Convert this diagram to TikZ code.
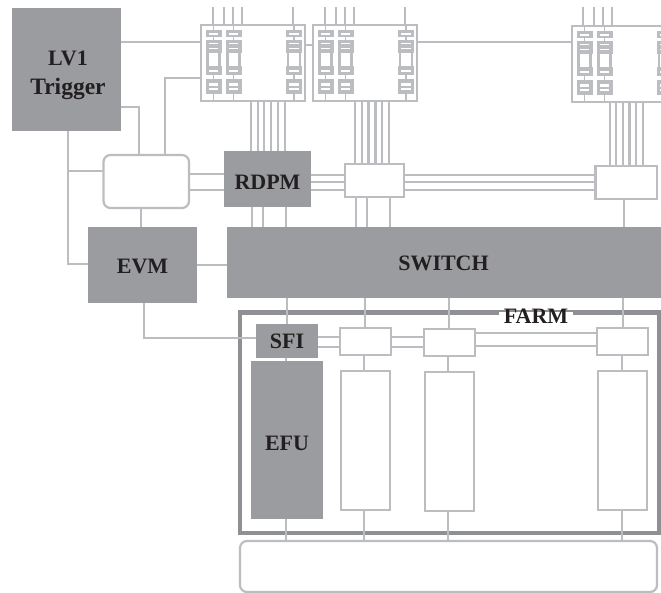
\documentclass[tikz,border=0pt]{standalone}
\usepackage{fontspec}
\setmainfont{Liberation Serif}
\definecolor{wirec}{HTML}{BCBDC0}
\definecolor{boxc}{HTML}{9B9C9F}
\definecolor{framec}{HTML}{8F9093}
\definecolor{inkc}{HTML}{231F20}
\tikzset{
  wire/.style={draw=wirec,line width=2.2pt},
  anybox/.style={inner sep=0pt,outer sep=0pt,font=\fontsize{22}{29}\selectfont\bfseries,text=inkc,align=center},
  darkbox/.style={anybox,fill=boxc},
  openbox/.style={anybox,draw=wirec,line width=2.2pt,fill=white},
  roundbox/.style={openbox,rounded corners=7pt},
  slot/.style={fill=white},
  block/.style={fill=wirec},
}
% \bx{name}{x1}{y1}{x2}{y2}{style}{text}
\newcommand{\bx}[7]{\node[#6,minimum width={(#4-#2)*1pt},minimum height={(#5-#3)*1pt}] (#1) at ({(#2+#4)/2},{(#3+#5)/2}) {#7};}
\newcommand{\tx}[2]{\raisebox{-#1pt}[0pt][0pt]{#2}}
\newcommand{\vl}[3]{\draw[wire] (#1,0 |- #2) -- (#1,0 |- #3);}
\newcommand{\hl}[3]{\draw[wire] (#2 |- 0,#1) -- (#3 |- 0,#1);}
\newcommand{\cell}[1]{%
  \begin{scope}[xshift=#1pt]
    \draw[wire,line width=1.8pt] (0,0) -- (0,76);
    \draw[wire,line width=2.4pt] (-6,26) -- (-6,44) (6,26) -- (6,44);
    \fill[white] (-4.7,26) rectangle (4.7,44);
    \fill[block] (-8,5) rectangle (8,12.5);
    \fill[slot] (-4.8,7.8) rectangle (4.8,9.8);
    \fill[block] (-8,15.5) rectangle (8,28.5);
    \fill[slot] (-4.8,18.3) rectangle (4.8,19.5);
    \fill[slot] (-4.8,23) rectangle (4.8,24.4);
    \fill[block] (-8,41.5) rectangle (8,50.5);
    \fill[slot] (-4.8,45) rectangle (4.8,46.8);
    \fill[block] (-8,54) rectangle (8,69.5);
    \fill[slot] (-4.8,57.8) rectangle (4.8,60.6);
    \fill[slot] (-4.8,63.4) rectangle (4.8,65.4);
  \end{scope}}
\newcommand{\modul}[3]{%
  \bx{#1}{#2}{#3}{#2+104}{#3+76}{openbox}{}
  \begin{scope}[shift={(#2,#3)}]
    \cell{12.5}\cell{32.5}\cell{92.7}
  \end{scope}}
\begin{document}
\begin{tikzpicture}[x=1pt,y=-1pt]
\clip (0,0) rectangle (661,593);
\fill[white] (0,0) rectangle (661,593);
\coordinate (t1) at (0,7);
% farm frame first, wires run over it
\bx{farm}{240}{312.5}{659.5}{533}{anybox,draw=framec,line width=4.2pt}{}
\node[anybox,fill=white,minimum width=74pt,minimum height=10pt] (farmlabel) at (536,317) {\tx{6.5}{FARM}};
% boxes
\bx{lv}{12}{8}{121}{131}{darkbox}{\rule{0pt}{27pt}\hspace*{3pt}LV1\\\hspace*{3pt}{\fontsize{23.5}{29}\selectfont Trigger}}
\bx{coord}{103.5}{155}{189}{208}{roundbox}{}
\bx{rdpm}{224}{151}{311}{207}{darkbox}{\tx{10.5}{RDPM}}
\bx{evm}{88}{227}{197}{303}{darkbox}{\tx{8.5}{EVM}}
\bx{switch}{227}{227}{665}{298}{darkbox}{\hspace{-5pt}\tx{8}{SWITCH}}
\bx{ra}{345}{164}{404}{197}{openbox}{}
\bx{rb}{595.5}{166}{657}{199}{openbox}{}
\modul{ma}{201}{25}
\modul{mb}{313}{25}
\modul{mc}{572}{26}
\bx{sfi}{256}{324}{318}{358}{darkbox}{\tx{7.5}{SFI}}
\bx{efu}{251}{361}{323}{519}{darkbox}{\tx{10}{EFU}}
\bx{fa}{340}{328}{391}{355}{openbox}{}
\bx{fb}{424}{329}{475}{356}{openbox}{}
\bx{fc}{597}{328}{648}{355}{openbox}{}
\bx{ca}{341}{371}{390}{510}{openbox}{}
\bx{cb}{425}{372}{474}{511}{openbox}{}
\bx{cc}{598}{371}{647}{510}{openbox}{}
\bx{store}{240}{541}{657}{592}{roundbox}{}
% module top lines
\foreach \x in {213,224,233,242,293}{\vl{\x}{t1}{ma.north}}
\foreach \x in {325,336,345,354,405}{\vl{\x}{t1}{mb.north}}
\foreach \x in {583,594,603,612}{\vl{\x}{t1}{mc.north}}
% bundles
\foreach \x in {251,257.7,264.2,271,277.7,284.7}{\vl{\x}{ma.south}{rdpm.north}}
\foreach \x in {355,362,368.5,375.5,382,389}{\vl{\x}{mb.south}{ra.north}}
\foreach \x in {610,616.3,623,629.5,636,643}{\vl{\x}{mc.south}{rb.north}}
% LV1 connections
\hl{42}{lv.east}{ma.west}
\hl{45}{ma.east}{mb.west}
\hl{42}{mb.east}{mc.west}
\draw[wire] (lv.east |- 0,107) -| (139,0 |- coord.north);
\draw[wire] (165,0 |- coord.north) |- (ma.west |- 0,78);
\draw[wire] (68,0 |- lv.south) |- (evm.west |- 0,264);
\draw[wire] (68,171) -- (coord.west |- 0,171);
\vl{141}{coord.south}{evm.north}
% horizontal rails
\hl{174}{coord.east}{rdpm.west}
\hl{190}{coord.east}{rdpm.west}
\foreach \y in {175,182,190}{\hl{\y}{rdpm.east}{ra.west}\hl{\y}{ra.east}{rb.west}}
% to switch
\foreach \x in {252,263,286}{\vl{\x}{rdpm.south}{switch.north}}
\foreach \x in {356,367,390}{\vl{\x}{ra.south}{switch.north}}
\vl{624}{rb.south}{switch.north}
\hl{265}{evm.east}{switch.west}
\draw[wire] (144,0 |- evm.south) |- (sfi.west |- 0,338);
% switch to farm
\vl{287}{switch.south}{sfi.north}
\vl{365}{switch.south}{fa.north}
\vl{449}{switch.south}{fb.north}
\vl{623}{switch.south}{fc.north}
\vl{286}{sfi.south}{efu.north}
\vl{364}{fa.south}{ca.north}
\vl{448}{fb.south}{cb.north}
\vl{622}{fc.south}{cc.north}
% farm rails
\foreach \y in {337,347}{\hl{\y}{sfi.east}{fa.west}\hl{\y}{fa.east}{fb.west}}
\hl{333}{fb.east}{fc.west}
\hl{346}{fb.east}{fc.west}
% to store
\vl{286}{efu.south}{store.north}
\vl{364}{ca.south}{store.north}
\vl{448}{cb.south}{store.north}
\vl{622}{cc.south}{store.north}
\end{tikzpicture}
\end{document}
